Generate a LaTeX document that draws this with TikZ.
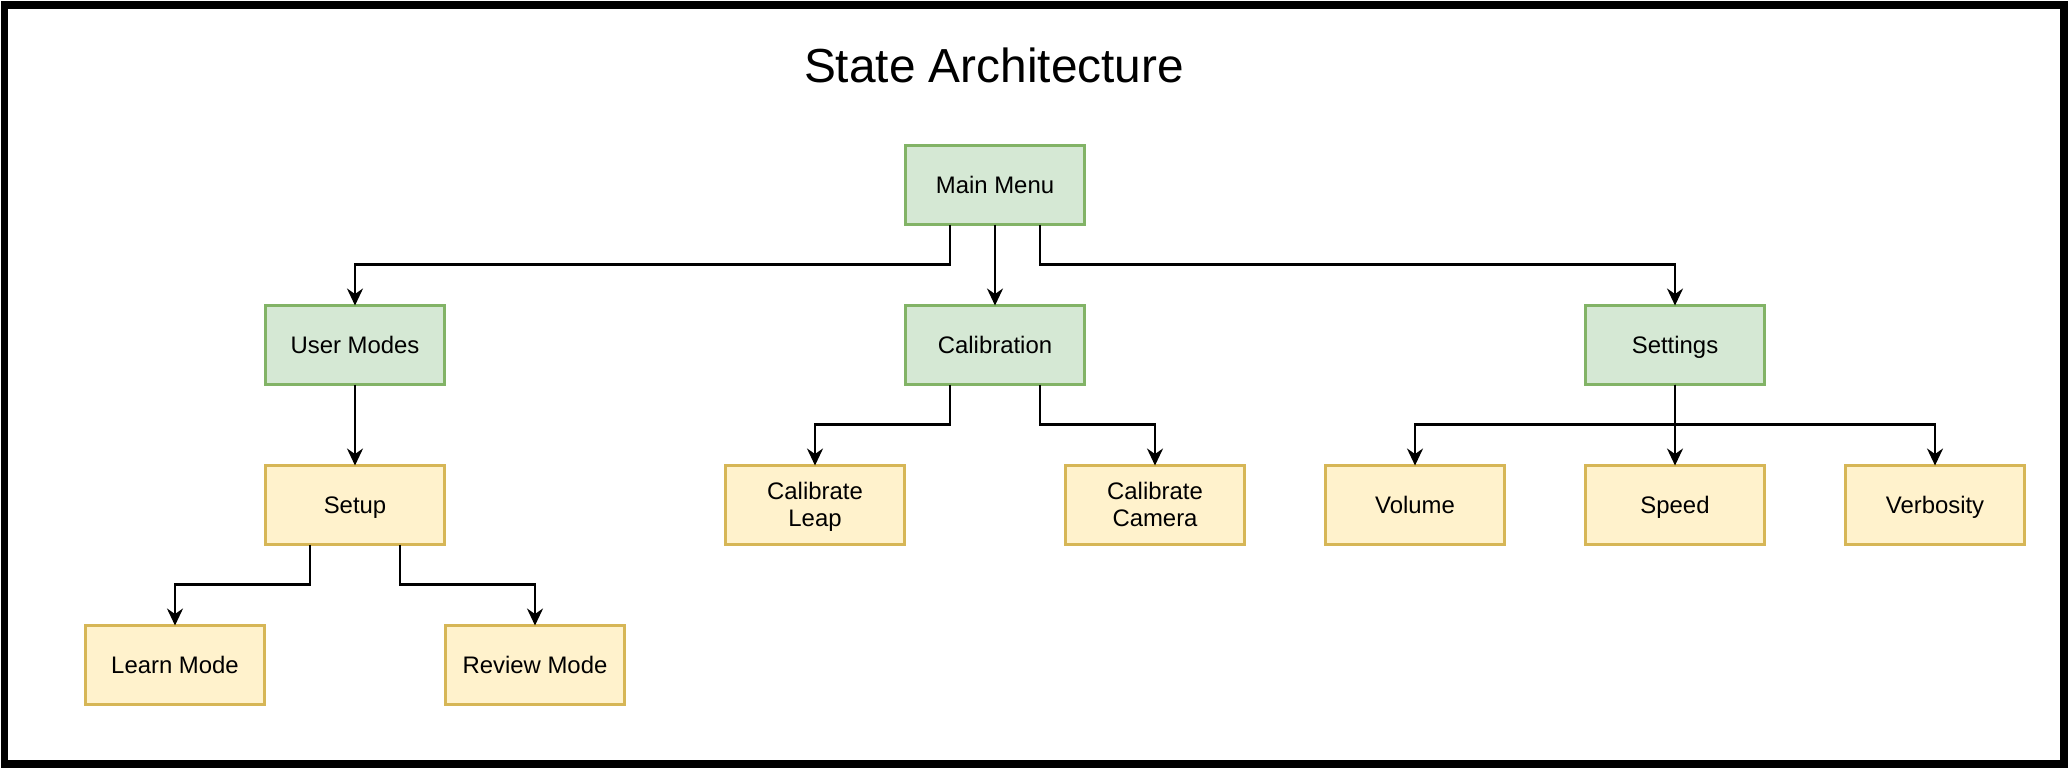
\documentclass[tikz,border=0pt]{standalone}
\usepackage{fontspec}
\setmainfont{Liberation Sans}
\usetikzlibrary{arrows.meta}

\definecolor{greenfill}{HTML}{D5E8D4}
\definecolor{greenline}{HTML}{82B366}
\definecolor{yellowfill}{HTML}{FFF2CC}
\definecolor{yellowline}{HTML}{D6B656}

\tikzset{
  statebox/.style={draw, line width=0.6pt, minimum width=1.79cm, minimum height=0.79cm,
    inner sep=0pt, outer sep=0pt, align=center, text height=6.1pt, text depth=1.4pt,
    font=\fontsize{6.8pt}{7.7pt}\selectfont},
  twolines/.style={text height=13.8pt},
  greenbox/.style={statebox, fill=greenfill, draw=greenline},
  yellowbox/.style={statebox, fill=yellowfill, draw=yellowline},
  arrow/.style={-{Stealth[length=0.17cm,width=0.16cm]}, line width=0.6pt}
}

\begin{document}
\begin{tikzpicture}
% --- page size and frame
\useasboundingbox (0,0) rectangle (20.68,-7.68);
\draw[line width=0.072cm] (0.045,-0.05) rectangle (20.64,-7.64);

% ---- title
\node[font=\fontsize{13.6pt}{16pt}\selectfont, anchor=base] (title) at (9.94,-0.823) {State Architecture};

% ---- top level states
\node[greenbox] (main) at (9.95,-1.85) {Main Menu};
\node[greenbox] (users) at (3.55,-3.45) {User Modes};
\node[greenbox] (calib) at (9.95,-3.45) {Calibration};
\node[greenbox] (settings) at (16.75,-3.45) {Settings};

% ---- sub states
\node[yellowbox] (setup) at (3.55,-5.05) {Setup};
\node[yellowbox, twolines] (leap) at (8.15,-5.05) {Calibrate\\Leap};
\node[yellowbox, twolines] (camera) at (11.55,-5.05) {Calibrate\\Camera};
\node[yellowbox] (volume) at (14.15,-5.05) {Volume};
\node[yellowbox] (speed) at (16.75,-5.05) {Speed};
\node[yellowbox] (verbosity) at (19.35,-5.05) {Verbosity};
\node[yellowbox] (learn) at (1.75,-6.65) {Learn Mode};
\node[yellowbox] (review) at (5.35,-6.65) {Review Mode};

% --- connectors from main menu
\draw[arrow] ([xshift=-4.5mm]main.south) -- ++(0,-0.4) -| (users.north);
\draw[arrow] (main) -- (calib);
\draw[arrow] ([xshift=4.5mm]main.south) -- ++(0,-0.4) -| (settings.north);

% --- connectors below
\draw[arrow] (users) -- (setup);
\draw[arrow] ([xshift=-4.5mm]calib.south) -- ++(0,-0.4) -| (leap.north);
\draw[arrow] ([xshift=4.5mm]calib.south) -- ++(0,-0.4) -| (camera.north);
\draw[arrow] (settings.south) -- ++(0,-0.4) -| (volume.north);
\draw[arrow] (settings) -- (speed);
\draw[arrow] (settings.south) -- ++(0,-0.4) -| (verbosity.north);
\draw[arrow] ([xshift=-4.5mm]setup.south) -- ++(0,-0.4) -| (learn.north);
\draw[arrow] ([xshift=4.5mm]setup.south) -- ++(0,-0.4) -| (review.north);
\end{tikzpicture}
\end{document}
